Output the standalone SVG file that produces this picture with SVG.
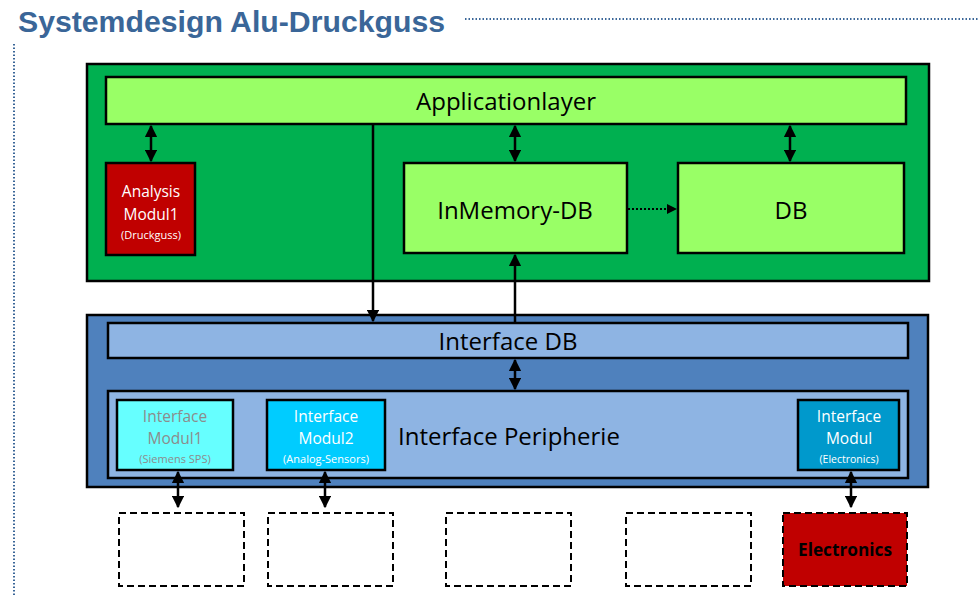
<svg xmlns="http://www.w3.org/2000/svg" width="978" height="596" viewBox="0 0 978 596">
<defs>
<style>
.t{font-family:"Open Sans","Liberation Sans",sans-serif;text-anchor:middle}
.box{stroke:#000;stroke-width:2.5}
.dash{fill:#fff;stroke:#000;stroke-width:2;stroke-dasharray:7 4}
.ln{stroke:#000;stroke-width:2.5;fill:none}
</style>
<marker id="ah" viewBox="0 0 10 10" refX="9" refY="5" markerWidth="5" markerHeight="5" orient="auto-start-reverse" markerUnits="strokeWidth">
<path d="M0,0 L10,5 L0,10 z" fill="#000"/>
</marker>
<marker id="ahs" viewBox="0 0 10 10" refX="9" refY="5" markerWidth="5" markerHeight="5" orient="auto" markerUnits="strokeWidth">
<path d="M0,0 L10,5 L0,10 z" fill="#000"/>
</marker>
</defs>
<rect width="978" height="596" fill="#fff"/>
<g id="title">
<text x="18" y="32" font-family="'Liberation Sans Narrow','Liberation Sans',sans-serif" font-weight="bold" font-size="30" fill="#3a6698" textLength="427" lengthAdjust="spacingAndGlyphs">Systemdesign Alu-Druckguss</text>
<line x1="465" y1="19" x2="978" y2="19" stroke="#3a6698" stroke-width="2" stroke-dasharray="1.5 2"/>
<line x1="14" y1="44" x2="14" y2="596" stroke="#3a6698" stroke-width="2" stroke-dasharray="1.5 2"/>
</g>
<g id="app-container"><rect x="87" y="64" width="842" height="217" fill="#00b050" class="box"/></g>
<g id="applicationlayer"><rect x="106" y="77" width="800" height="47" fill="#99ff66" class="box"/><text class="t" x="506" y="110" font-size="24">Applicationlayer</text></g>
<g id="analysis"><rect x="106" y="163" width="89" height="92" fill="#c00000" class="box"/>
<text class="t" x="151" y="197" font-size="15.5" fill="#fff">Analysis</text>
<text class="t" x="151" y="220" font-size="15.5" fill="#fff">Modul1</text>
<text class="t" x="151" y="239" font-size="11" fill="#fff">(Druckguss)</text></g>
<g id="inmemory"><rect x="404" y="163" width="223" height="90" fill="#99ff66" class="box"/><text class="t" x="515" y="219" font-size="24">InMemory-DB</text></g>
<g id="db"><rect x="678" y="163" width="226" height="90" fill="#99ff66" class="box"/><text class="t" x="791" y="219" font-size="24">DB</text></g>
<g id="iface-container"><rect x="87" y="315" width="841" height="172" fill="#4f81bd" class="box"/></g>
<g id="interface-db"><rect x="108" y="323" width="800" height="35" fill="#8eb4e3" class="box"/><text class="t" x="508" y="350" font-size="24">Interface DB</text></g>
<g id="interface-peripherie"><rect x="108" y="391" width="800" height="87" fill="#8eb4e3" class="box"/><text x="398" y="445" font-family="'Open Sans','Liberation Sans',sans-serif" font-size="24">Interface Peripherie</text></g>
<g id="im1"><rect x="117" y="400" width="116" height="70" fill="#66ffff" class="box"/>
<text class="t" x="175" y="422" font-size="15.5" fill="#8c8c8c">Interface</text>
<text class="t" x="175" y="444" font-size="15.5" fill="#8c8c8c">Modul1</text>
<text class="t" x="175" y="463" font-size="11" fill="#8c8c8c">(Siemens SPS)</text></g>
<g id="im2"><rect x="267" y="400" width="118" height="70" fill="#00ccff" class="box"/>
<text class="t" x="326" y="422" font-size="15.5" fill="#fff">Interface</text>
<text class="t" x="326" y="444" font-size="15.5" fill="#fff">Modul2</text>
<text class="t" x="326" y="463" font-size="11" fill="#fff">(Analog-Sensors)</text></g>
<g id="im3"><rect x="798" y="400" width="101" height="70" fill="#0099cc" class="box"/>
<text class="t" x="849" y="422" font-size="15.5" fill="#fff">Interface</text>
<text class="t" x="849" y="444" font-size="15.5" fill="#fff">Modul</text>
<text class="t" x="849" y="463" font-size="10.5" fill="#fff">(Electronics)</text></g>
<g id="ext1"><rect x="119" y="513" width="125" height="73" class="dash"/></g>
<g id="ext2"><rect x="268" y="513" width="125" height="73" class="dash"/></g>
<g id="ext3"><rect x="446" y="513" width="125" height="73" class="dash"/></g>
<g id="ext4"><rect x="626" y="513" width="125" height="73" class="dash"/></g>
<g id="electronics"><rect x="783" y="513" width="124" height="73" fill="#c00000" stroke="#000" stroke-width="2" stroke-dasharray="7 4"/><text class="t" x="845" y="556" font-size="18" font-weight="bold" font-family="'Liberation Sans Narrow','Liberation Sans',sans-serif" textLength="94" lengthAdjust="spacingAndGlyphs">Electronics</text></g>
<g id="connectors">
<line class="ln" x1="151" y1="126" x2="151" y2="161" marker-start="url(#ah)" marker-end="url(#ah)"/>
<line class="ln" x1="515" y1="126" x2="515" y2="161" marker-start="url(#ah)" marker-end="url(#ah)"/>
<line class="ln" x1="790" y1="126" x2="790" y2="161" marker-start="url(#ah)" marker-end="url(#ah)"/>
<line x1="628" y1="209" x2="676" y2="209" stroke="#000" stroke-width="2" stroke-dasharray="2 2" marker-end="url(#ahs)"/>
<line class="ln" x1="373" y1="124" x2="373" y2="321" marker-end="url(#ah)"/>
<line class="ln" x1="515" y1="322" x2="515" y2="255" marker-end="url(#ah)"/>
<line class="ln" x1="515" y1="360" x2="515" y2="389" marker-start="url(#ah)" marker-end="url(#ah)"/>
<line class="ln" x1="178" y1="472" x2="178" y2="507" marker-start="url(#ah)" marker-end="url(#ah)"/>
<line class="ln" x1="325" y1="472" x2="325" y2="507" marker-start="url(#ah)" marker-end="url(#ah)"/>
<line class="ln" x1="851" y1="472" x2="851" y2="507" marker-start="url(#ah)" marker-end="url(#ah)"/>
</g>
</svg>
